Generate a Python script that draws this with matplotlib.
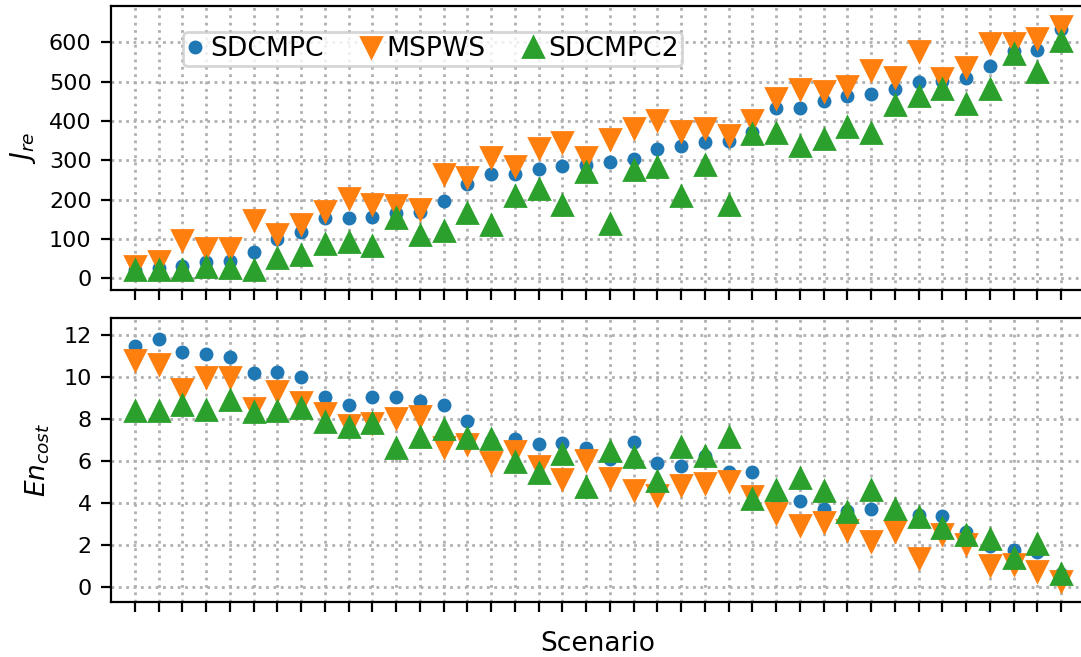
import numpy as np
import matplotlib
matplotlib.use("Agg")
import matplotlib.pyplot as plt

# valeurs
scenario = np.arange(40)

jre_sdcmpc = [20, 25, 30, 41, 43, 66, 100, 118, 153, 154,
              156, 165, 169, 196, 239, 264, 264, 277, 286, 288,
              296, 303, 329, 335, 347, 349, 371, 432, 433, 450,
              462, 468, 482, 498, 502, 508, 540, 578, 580, 633]
jre_mspws = [31, 44, 97, 77, 77, 147, 112, 137, 172, 203,
             188, 185, 175, 265, 257, 307, 284, 330, 346, 309,
             355, 381, 403, 375, 381, 365, 403, 457, 480, 477,
             489, 529, 512, 577, 510, 538, 599, 597, 611, 640]
jre_sdcmpc2 = [21, 21, 20, 28, 25, 21, 51, 59, 86, 91,
               82, 152, 111, 120, 165, 136, 208, 226, 187, 269,
               137, 274, 283, 208, 287, 186, 366, 370, 335, 353,
               385, 369, 441, 462, 482, 442, 482, 569, 525, 604]

en_sdcmpc = [11.46, 11.78, 11.19, 11.06, 10.95, 10.16, 10.21, 9.97, 9.02, 8.65,
             9.02, 9.02, 8.84, 8.65, 7.90, 6.95, 7.03, 6.78, 6.83, 6.62,
             6.06, 6.90, 5.90, 5.75, 6.20, 5.48, 5.48, 4.17, 4.06, 3.70,
             3.60, 3.70, 3.30, 3.41, 3.37, 2.59, 1.95, 1.75, 1.63, 0.60]
en_mspws = [10.78, 10.62, 9.40, 9.98, 10.00, 8.49, 9.32, 8.78, 8.29, 7.70,
            7.78, 8.02, 8.14, 6.63, 6.79, 5.92, 6.44, 5.76, 5.14, 6.02,
            5.16, 4.62, 4.35, 4.84, 4.92, 5.05, 4.33, 3.51, 2.92, 3.08,
            2.70, 2.17, 2.67, 1.35, 2.52, 2.03, 1.02, 1.08, 0.76, 0.29]
en_sdcmpc2 = [8.37, 8.37, 8.65, 8.40, 8.87, 8.30, 8.35, 8.51, 7.83, 7.60,
              7.79, 6.59, 7.11, 7.51, 7.10, 7.05, 5.92, 5.41, 6.33, 4.73,
              6.44, 6.17, 5.05, 6.65, 6.24, 7.11, 4.16, 4.60, 5.19, 4.54,
              3.56, 4.59, 3.71, 3.30, 2.79, 2.48, 2.29, 1.35, 2.02, 0.60]

labels = ['SDCMPC', 'MSPWS', 'SDCMPC2']

fig = plt.figure(figsize=(10.81/2, 6.57/2), dpi=200)
ax1 = fig.add_axes([0.1027, 0.5586, 0.9010, 0.4323])
ax2 = fig.add_axes([0.1027, 0.0833, 0.9010, 0.4323], sharex=ax1)

ax1.plot(scenario, jre_sdcmpc, 'o', color='C0', ms=4, label=labels[0])
ax1.plot(scenario, jre_mspws, 'v', color='C1', ms=7, label=labels[1])
ax1.plot(scenario, jre_sdcmpc2, '^', color='C2', ms=7, label=labels[2])

ax2.plot(scenario, en_sdcmpc, 'o', color='C0', ms=4)
ax2.plot(scenario, en_mspws, 'v', color='C1', ms=7)
ax2.plot(scenario, en_sdcmpc2, '^', color='C2', ms=7)

for ax in (ax1, ax2):
    ax.set_xticks(scenario)
    ax.tick_params(labelbottom=False, labelsize=8)
    ax.grid(linestyle=':', linewidth=1.0)

ax1.set_xlim(-1, 40)
ax1.set_ylim(-30, 692)
ax2.set_ylim(-0.74, 12.78)
ax1.set_yticks([0, 100, 200, 300, 400, 500, 600])
ax2.set_yticks([0, 2, 4, 6, 8, 10, 12])

ax1.set_ylabel('$J_{re}$', fontsize=9.5)
ax2.set_ylabel('$En_{cost}$', fontsize=9.5)
ax2.set_xlabel('Scenario', fontsize=9.5, labelpad=7)

ax1.legend(ncol=3, loc='upper left', bbox_to_anchor=(0.074, 0.908), borderaxespad=0,
           fontsize=9.6, borderpad=0.15, handlelength=0.6, handletextpad=0.25,
           columnspacing=1.5)

fig.savefig('out.png', dpi=200)
